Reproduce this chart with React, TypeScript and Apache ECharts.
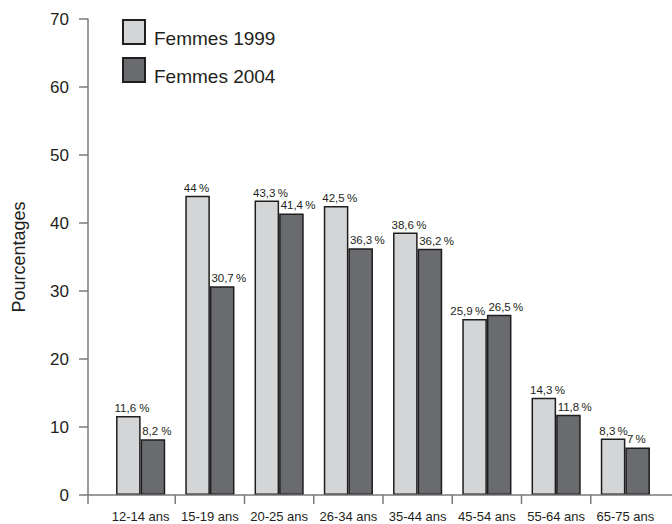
import React, { useEffect, useRef } from "react";
import * as echarts from "echarts";

const categories = ["12-14 ans", "15-19 ans", "20-25 ans", "26-34 ans", "35-44 ans", "45-54 ans", "55-64 ans", "65-75 ans"];
const femmes1999 = [11.6, 44, 43.3, 42.5, 38.6, 25.9, 14.3, 8.3];
const femmes2004 = [8.2, 30.7, 41.4, 36.3, 36.2, 26.5, 11.8, 7];
const seriesNames = ["Femmes 1999", "Femmes 2004"];
const yMin = 0;
const yMax = 70;
const yStep = 10;

const FONT = "'Liberation Sans', Arial, Helvetica, sans-serif";
const TEXT = "#231f20";
const AXIS = "#7a7a7a";
const GRID_LEFT = 106;
const Y_OFFSET = 18;

export default function App() {
  const ref = useRef<HTMLDivElement>(null);
  useEffect(() => {
    if (!ref.current) return;
    const chart = echarts.init(ref.current, null, { renderer: "svg" });
    const fmt = (p: any) =>
      String(p.value).replace(".", ",") + (p.dataIndex === 0 ? " " : "\u2009") + "%";
    const barStyle = (color: string) => ({
      color,
      borderColor: "#1e1e1e",
      borderWidth: 1.5,
    });
    const labelStyle = (pos: number[]) => ({
      show: true,
      position: pos,
      align: "left",
      verticalAlign: "bottom",
      fontSize: 11.5,
      color: TEXT,
      textBorderWidth: 0,
      fontFamily: FONT,
      formatter: fmt,
    });
    // when the two labels of a group would sit at the same height, nudge the first one left
    const data1999 = femmes1999.map((v, i) =>
      femmes2004[i] >= v - 1 ? { value: v, label: { position: [-12, -2] } } : v
    );
    chart.setOption({
      animation: false,
      textStyle: { fontFamily: FONT, color: TEXT },
      grid: { left: GRID_LEFT, right: 12, top: 19, bottom: 29 },
      legend: {
        orient: "vertical",
        left: 122,
        top: 19,
        padding: 0,
        itemWidth: 22,
        itemHeight: 24,
        itemGap: 9,
        icon: "rect",
        data: seriesNames,
        formatter: "{n|{name}}",
        textStyle: {
          fontSize: 19,
          color: TEXT,
          fontFamily: FONT,
          rich: { n: { fontSize: 19, color: TEXT, fontFamily: FONT, padding: [13, 0, 0, 4] } },
        },
      },
      xAxis: {
        type: "category",
        data: categories,
        axisLine: { show: false },
        axisTick: { show: false },
        axisLabel: { interval: 0, fontSize: 13, color: TEXT, margin: 15, fontFamily: FONT },
      },
      yAxis: {
        type: "value",
        min: yMin,
        max: yMax,
        interval: yStep,
        offset: Y_OFFSET,
        name: "Pourcentages",
        nameLocation: "middle",
        nameRotate: 90,
        nameGap: 60,
        nameTextStyle: { fontSize: 18, color: TEXT, fontFamily: FONT },
        axisLine: { show: true, lineStyle: { color: AXIS, width: 1.5 } },
        axisTick: { show: true, length: 9, lineStyle: { color: AXIS, width: 1.5 } },
        axisLabel: { fontSize: 17, color: TEXT, margin: 19, fontFamily: FONT },
        splitLine: { show: false },
      },
      series: [
        {
          name: seriesNames[0],
          type: "bar",
          data: data1999,
          barGap: "0%",
          barCategoryGap: "29%",
          itemStyle: barStyle("#d4d5d7"),
          label: labelStyle([-1.5, -2]),
        },
        {
          name: seriesNames[1],
          type: "bar",
          data: femmes2004,
          barGap: "0%",
          barCategoryGap: "29%",
          itemStyle: barStyle("#6a6b6f"),
          label: labelStyle([1.5, -2]),
        },
      ],
    });

    // x-axis line and boundary ticks derived from the library's own scales
    const y0 = chart.convertToPixel({ yAxisIndex: 0 }, 0) as number;
    const centers = categories.map((c) => chart.convertToPixel({ xAxisIndex: 0 }, c) as number);
    const band = centers[1] - centers[0];
    const axisX = GRID_LEFT - Y_OFFSET;
    const lineStyle = { stroke: AXIS, lineWidth: 1.5 };
    const elements: any[] = [
      { type: "line", shape: { x1: axisX, y1: y0, x2: 672, y2: y0 }, style: lineStyle, z: 10 },
      { type: "line", shape: { x1: axisX, y1: y0, x2: axisX, y2: y0 + 9 }, style: lineStyle, z: 10 },
    ];
    for (let i = 1; i < centers.length; i++) {
      const x = centers[i] - band / 2;
      elements.push({ type: "line", shape: { x1: x, y1: y0, x2: x, y2: y0 + 9 }, style: lineStyle, z: 10 });
    }
    chart.setOption({ graphic: { elements } });

    return () => chart.dispose();
  }, []);
  return (
    <div
      ref={ref}
      style={{ position: "fixed", left: 0, top: 0, width: 672, height: 524, background: "#fff" }}
    />
  );
}
